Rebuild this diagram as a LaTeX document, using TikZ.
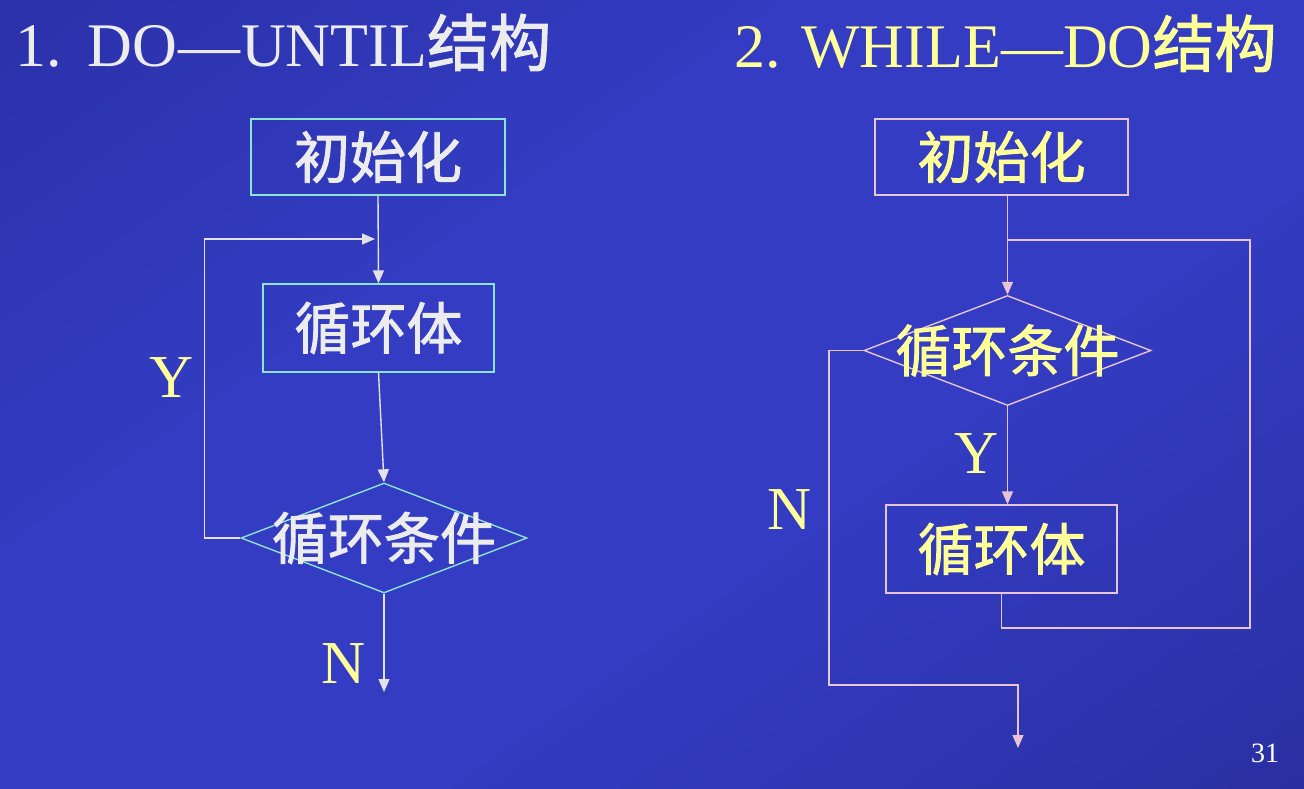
\documentclass[tikz,border=0pt]{standalone}
\usepackage{fontspec}
\setmainfont{Liberation Serif}
\newfontfamily\cjk[FakeBold=1.6]{Noto Sans CJK SC}
\usetikzlibrary{arrows.meta,shapes.geometric}

\definecolor{bgdark}{RGB}{40,44,158}
\definecolor{bgmid}{RGB}{51,60,194}
\definecolor{bgend}{RGB}{34,38,138}
\definecolor{txtwhite}{RGB}{236,236,236}
\definecolor{txtyellow}{RGB}{255,255,153}
\definecolor{tealline}{RGB}{140,228,210}
\definecolor{greyline}{RGB}{226,226,232}
\definecolor{pinkline}{RGB}{232,196,214}

% slide backdrop: dark corners top left and bottom right, bright band between
\pgfdeclareverticalshading{slidebg}{100bp}{%
  color(0bp)=(bgend); color(22bp)=(bgend!40!bgmid); color(40bp)=(bgmid);
  color(62bp)=(bgmid); color(82bp)=(bgdark!60!bgmid); color(100bp)=(bgdark)}

\tikzset{
  px/.style={x=1pt,y=-1pt},
  boxL/.style={draw=tealline,line width=1.4pt,rectangle,inner sep=0pt,
    text=txtwhite,font=\fontsize{56}{56}\selectfont\cjk},
  diaL/.style={draw=tealline,line width=1.4pt,diamond,inner sep=0pt},
  boxR/.style={draw=pinkline,line width=1.4pt,rectangle,inner sep=0pt,
    text=txtyellow,font=\fontsize{56}{56}\selectfont\cjk},
  diaR/.style={draw=pinkline,line width=1.4pt,diamond,inner sep=0pt},
  flowL/.style={draw=greyline,line width=1.4pt,-{Triangle[width=11pt,length=13pt]}},
  flowR/.style={draw=pinkline,line width=1.4pt,-{Triangle[width=11pt,length=13pt]}},
  lineR/.style={draw=pinkline,line width=1.4pt},
  yn/.style={text=txtyellow,font=\fontsize{61}{61}\selectfont,anchor=base,inner sep=0pt},
}

\begin{document}
\begin{tikzpicture}[px]
  \shade[shading=slidebg,shading angle=35] (0,0) rectangle (1304,788);
  \useasboundingbox (0,0) rectangle (1304,788);

  % headings
  \node[anchor=base west,inner sep=0pt,text=txtwhite,font=\fontsize{62}{62}\selectfont]
    (t1) at (15,66) {1.\hspace{26pt}DO\kern1pt---\kern1pt UNTIL{\cjk 结构}};
  \node[anchor=base west,inner sep=0pt,text=txtyellow,font=\fontsize{62}{62}\selectfont]
    (t2) at (734,67) {2. WHILE---DO{\cjk 结构}};

  % ---- DO-UNTIL ----
  \node[boxL,minimum width=254pt,minimum height=76pt] (initL) at (378,157) {初始化};
  \node[boxL,minimum width=231pt,minimum height=88pt] (bodyL) at (378.5,328) {循环体};
  \node[diaL,minimum width=286pt,minimum height=110pt,
        label={[text=txtwhite,font=\fontsize{56}{56}\selectfont\cjk]center:循环条件}]
        (condL) at (384,538) {};
  \coordinate (loopL) at (375,239);
  \coordinate (exitL) at (384,692);

  \draw[flowL] (initL.south) -- (bodyL.north);
  \draw[flowL] (bodyL.south) -- (condL.north);
  \draw[flowL] (condL.west) -- ++(-36,0) |- (loopL);
  \draw[flowL] (condL.south) -- (exitL);

  \node[yn] (yL) at (172,397) {Y};
  \node[yn] (nL) at (344,683) {N};

  % ---- WHILE-DO ----
  \node[boxR,minimum width=253pt,minimum height=76pt] (initR) at (1001.5,157) {初始化};
  \node[diaR,minimum width=287pt,minimum height=110pt,
        label={[text=txtyellow,font=\fontsize{56}{56}\selectfont\cjk]center:循环条件}]
        (condR) at (1007.5,350.5) {};
  \node[boxR,minimum width=231pt,minimum height=88pt] (bodyR) at (1001.5,549) {循环体};
  \coordinate (joinR) at (1007.5,240);
  \coordinate (backB) at (1250,628);
  \coordinate (backT) at (1250,240);
  \coordinate (nBot) at (829,685);
  \coordinate (exitR) at (1018,748);

  \draw[flowR] (initR.south -| condR.north) -- (condR.north);
  \draw[flowR] (condR.south) -- (bodyR.north -| condR.south);
  \draw[lineR] (bodyR.south) |- (backB) -- (backT) -- (joinR);
  \draw[flowR] (condR.west) -| (nBot) -| (exitR);

  \node[yn] (yR) at (977,473) {Y};
  \node[yn] (nR) at (790,529) {N};

  % slide number
  \node[anchor=base,inner sep=0pt,text=white,font=\fontsize{28}{28}\selectfont]
    (pg) at (1265,762) {31};
\end{tikzpicture}
\end{document}
